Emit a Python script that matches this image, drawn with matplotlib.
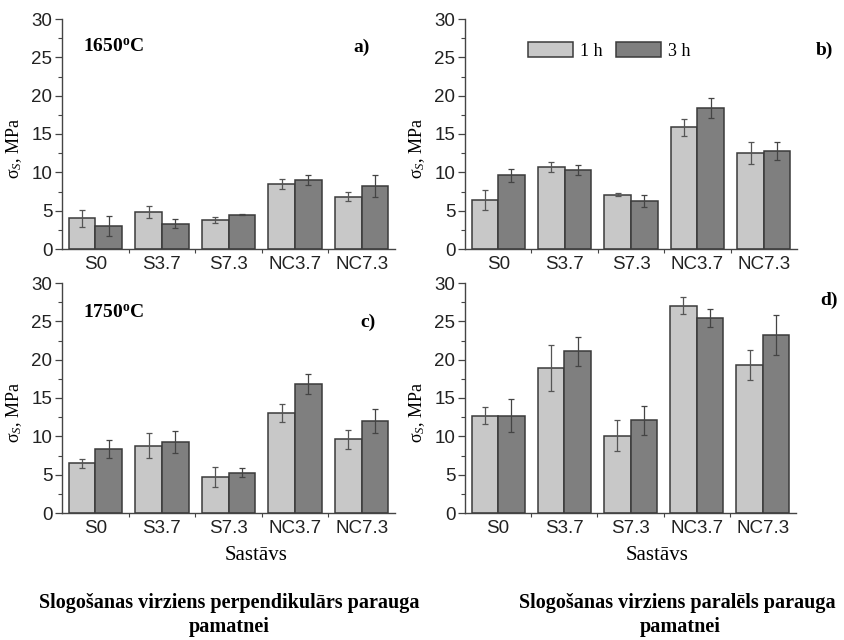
import numpy as np
import matplotlib
matplotlib.use("Agg")
import matplotlib.pyplot as plt
import matplotlib.patches as mpatches
from matplotlib.ticker import MultipleLocator, FixedLocator

# Data
categories = ["S0", "S3.7", "S7.3", "NC3.7", "NC7.3"]

# a) 1650 C, perpendicular
a_1h = [4.0, 4.8, 3.8, 8.5, 6.8]
a_1h_err = [1.1, 0.8, 0.35, 0.65, 0.6]
a_3h = [3.0, 3.3, 4.5, 9.0, 8.2]
a_3h_err = [1.3, 0.55, 0.1, 0.7, 1.4]

# b) 1650 C, parallel
b_1h = [6.4, 10.7, 7.1, 15.9, 12.5]
b_1h_err = [1.35, 0.65, 0.25, 1.1, 1.4]
b_3h = [9.6, 10.3, 6.25, 18.4, 12.8]
b_3h_err = [0.8, 0.7, 0.8, 1.3, 1.2]

# c) 1750 C, perpendicular
c_1h = [6.5, 8.8, 4.7, 13.05, 9.6]
c_1h_err = [0.57, 1.6, 1.3, 1.12, 1.26]
c_3h = [8.35, 9.3, 5.25, 16.85, 12.0]
c_3h_err = [1.17, 1.43, 0.6, 1.34, 1.6]

# d) 1750 C, parallel
d_1h = [12.7, 18.95, 10.1, 27.05, 19.3]
d_1h_err = [1.13, 3.0, 2.0, 1.1, 1.95]
d_3h = [12.7, 21.1, 12.1, 25.45, 23.2]
d_3h_err = [2.17, 1.9, 1.9, 1.2, 2.6]

# Style
light = '#c8c8c8'
dark = '#7f7f7f'
edge = '#3a3a3a'
serif = 'Liberation Serif'
sans = 'Liberation Sans'

plt.rcParams['mathtext.fontset'] = 'custom'
plt.rcParams['mathtext.rm'] = 'Liberation Serif'
plt.rcParams['mathtext.it'] = 'Liberation Serif:italic'
plt.rcParams['mathtext.bf'] = 'Liberation Serif:bold'


def draw_panel(ax, v1, e1, v3, e3):
    x = np.arange(1, len(categories) + 1)
    w = 0.4
    ax.bar(x - w / 2, v1, width=w, color=light, edgecolor=edge, linewidth=1.1, zorder=2)
    ax.bar(x + w / 2, v3, width=w, color=dark, edgecolor=edge, linewidth=1.1, zorder=2)
    ax.errorbar(x - w / 2, v1, yerr=e1, fmt='none', ecolor='#555555', elinewidth=0.9, capsize=2.5, capthick=0.9, zorder=3)
    ax.errorbar(x + w / 2, v3, yerr=e3, fmt='none', ecolor='#444444', elinewidth=0.9, capsize=2.5, capthick=0.9, zorder=3)

    ax.set_xlim(0.5, 5.5)
    ax.set_ylim(0, 30)
    ax.spines['top'].set_visible(False)
    ax.spines['right'].set_visible(False)
    for s in ['left', 'bottom']:
        ax.spines[s].set_color('#444444')
        ax.spines[s].set_linewidth(1.0)

    ax.yaxis.set_major_locator(MultipleLocator(5))
    ax.yaxis.set_minor_locator(MultipleLocator(2.5))
    ax.set_xticks(x)
    ax.set_xticklabels(categories)
    ax.xaxis.set_minor_locator(FixedLocator([1.5, 2.5, 3.5, 4.5]))
    ax.tick_params(axis='y', which='major', length=5, width=0.9, color='#444444', labelsize=13.5, pad=2)
    ax.tick_params(axis='y', which='minor', length=3, width=0.8, color='#444444')
    ax.tick_params(axis='x', which='major', length=0, labelsize=13.5, pad=5)
    ax.tick_params(axis='x', which='minor', length=3, width=0.8, color='#444444')
    for lbl in ax.get_xticklabels() + ax.get_yticklabels():
        lbl.set_fontfamily(sans)
        lbl.set_color('#222222')

    ax.set_ylabel('σ$_S$, MPa', fontfamily=serif, fontsize=13)
    ax.yaxis.set_label_coords(-0.115, 0.44)


fig = plt.figure(figsize=(8.44, 6.4), dpi=100)
W, H = 844, 640

def make_axes(left, top, right, bottom):
    return fig.add_axes([left / W, 1 - bottom / H, (right - left) / W, (bottom - top) / H])

ax_a = make_axes(62, 19, 395, 249)
ax_b = make_axes(465, 19, 797, 249)
ax_c = make_axes(62, 283, 395, 513)
ax_d = make_axes(465, 283, 796, 513)

draw_panel(ax_a, a_1h, a_1h_err, a_3h, a_3h_err)
draw_panel(ax_b, b_1h, b_1h_err, b_3h, b_3h_err)
draw_panel(ax_c, c_1h, c_1h_err, c_3h, c_3h_err)
draw_panel(ax_d, d_1h, d_1h_err, d_3h, d_3h_err)

# Panel labels
ax_a.text(0.063, 0.878, r'1650$^{\mathbf{o}}$C', transform=ax_a.transAxes, fontfamily=serif, fontweight='bold', fontsize=14, va='center')
ax_a.text(0.90, 0.878, 'a)', transform=ax_a.transAxes, fontfamily=serif, fontweight='bold', fontsize=14, va='center', ha='center')
ax_b.text(1.084, 0.865, 'b)', transform=ax_b.transAxes, fontfamily=serif, fontweight='bold', fontsize=14, va='center', ha='center')
ax_c.text(0.063, 0.87, r'1750$^{\mathbf{o}}$C', transform=ax_c.transAxes, fontfamily=serif, fontweight='bold', fontsize=14, va='center')
ax_c.text(0.92, 0.83, 'c)', transform=ax_c.transAxes, fontfamily=serif, fontweight='bold', fontsize=14, va='center', ha='center')
ax_d.text(1.10, 0.926, 'd)', transform=ax_d.transAxes, fontfamily=serif, fontweight='bold', fontsize=14, va='center', ha='center')

# Legend
light_patch = mpatches.Patch(facecolor=light, edgecolor=edge, linewidth=1.1, label='1 h')
dark_patch = mpatches.Patch(facecolor=dark, edgecolor=edge, linewidth=1.1, label='3 h')
ax_b.legend(handles=[light_patch, dark_patch], ncol=2, loc='upper left', bbox_to_anchor=(0.19, 0.90),
            frameon=False, prop={'family': serif, 'size': 13}, handlelength=2.5, handleheight=0.9,
            handletextpad=0.4, columnspacing=0.7, borderpad=0, borderaxespad=0)

# x axis titles
fig.text(256 / W, 1 - 555 / H, 'Sastāvs', fontfamily=serif, fontsize=15, ha='center', va='center')
fig.text(657 / W, 1 - 555 / H, 'Sastāvs', fontfamily=serif, fontsize=15, ha='center', va='center')

# Bottom captions
fig.text(229 / W, 1 - 603 / H, 'Slogošanas virziens perpendikulārs parauga', fontfamily=serif, fontweight='bold', fontsize=14.5, ha='center', va='center')
fig.text(229 / W, 1 - 627 / H, 'pamatnei', fontfamily=serif, fontweight='bold', fontsize=14.5, ha='center', va='center')
fig.text(519 / W, 1 - 603 / H, 'Slogošanas virziens paralēls parauga', fontfamily=serif, fontweight='bold', fontsize=14.5, ha='left', va='center')
fig.text(680 / W, 1 - 627 / H, 'pamatnei', fontfamily=serif, fontweight='bold', fontsize=14.5, ha='center', va='center')

plt.savefig('out.png', dpi=100)
